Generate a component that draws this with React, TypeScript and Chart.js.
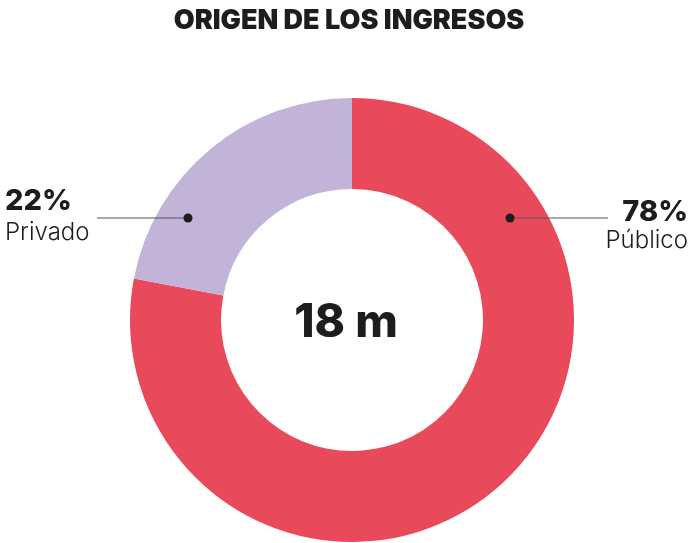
import React, { useEffect, useRef } from "react";
import { Chart, registerables } from "chart.js";

Chart.register(...registerables);

const categories = ["Público", "Privado"];
const values = [78, 22];
const percentLabels = ["78%", "22%"];
const colors = ["#E84A5C", "#C2B4D8"];
const title = "ORIGEN DE LOS INGRESOS";
const centerText = "18 m";

const FONT = "Inter, 'DejaVu Sans', sans-serif";
const TEXT = "#1d1d1b";

const overlay = {
  id: "overlay",
  afterDraw(chart: any) {
    const ctx = chart.ctx;
    const meta = chart.getDatasetMeta(0);
    const arc0 = meta.data[0];
    const cx = arc0.x;
    const cy = arc0.y;
    ctx.save();
    // title
    ctx.fillStyle = TEXT;
    ctx.textAlign = "center";
    ctx.textBaseline = "middle";
    ctx.font = `900 27px ${FONT}`;
    ctx.fillText(title, 349, 21);
    // center
    ctx.font = `800 46px ${FONT}`;
    ctx.fillText(centerText, cx - 6, cy + 3);

    // leader labels
    meta.data.forEach((arc: any, i: number) => {
      const mid = (arc.startAngle + arc.endAngle) / 2;
      const right = Math.cos(mid) >= 0;
      const dy = -102;
      const dotX = right ? cx + 158 : cx - 164;
      const dotY = cy + dy;
      ctx.strokeStyle = "#555";
      ctx.lineWidth = 1;
      ctx.beginPath();
      if (right) {
        ctx.moveTo(dotX, dotY);
        ctx.lineTo(608, dotY);
      } else {
        ctx.moveTo(97, dotY);
        ctx.lineTo(dotX, dotY);
      }
      ctx.stroke();
      ctx.fillStyle = TEXT;
      ctx.beginPath();
      ctx.arc(dotX, dotY, 4.5, 0, Math.PI * 2);
      ctx.fill();
      ctx.textAlign = right ? "right" : "left";
      const tx = right ? 688 : 5;
      ctx.textBaseline = "alphabetic";
      ctx.font = `800 29px ${FONT}`;
      ctx.fillText(percentLabels[i], tx, dotY + (right ? 3 : -8));
      ctx.font = `300 24px ${FONT}`;
      ctx.fillText(categories[i], tx, dotY + (right ? 30 : 22));
    });
    ctx.restore();
  },
};

export default function App() {
  const ref = useRef<HTMLCanvasElement>(null);
  useEffect(() => {
    if (!ref.current) return;
    const chart = new Chart(ref.current, {
      type: "doughnut",
      data: {
        labels: categories,
        datasets: [
          {
            data: values,
            backgroundColor: colors,
            borderWidth: 0,
          },
        ],
      },
      options: {
        animation: false,
        responsive: false,
        cutout: "59%",
        layout: { padding: { top: 98, bottom: 1, left: 130, right: 120 } },
        plugins: {
          legend: { display: false },
          tooltip: { enabled: false },
        },
      },
      plugins: [overlay],
    });
    return () => chart.destroy();
  }, []);
  return (
    <div style={{ position: "fixed", left: 0, top: 0, width: 694, height: 543, background: "#fff" }}>
      <canvas ref={ref} width={694} height={543} style={{ width: 694, height: 543 }} />
    </div>
  );
}
